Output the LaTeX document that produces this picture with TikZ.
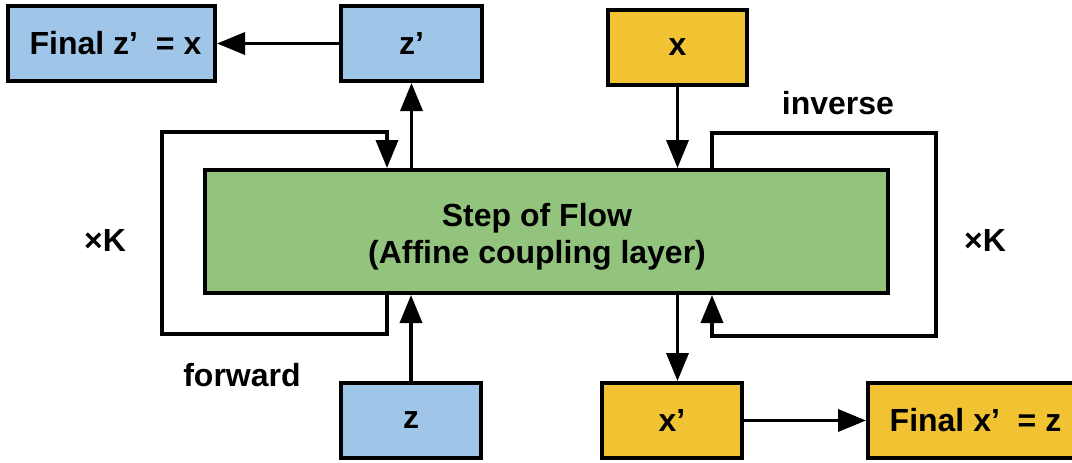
\documentclass[tikz,border=0pt]{standalone}
\usepackage{fontspec}
\setmainfont{Liberation Sans}
\usetikzlibrary{arrows.meta,positioning}
\definecolor{boxblue}{HTML}{9FC5E8}
\definecolor{boxyellow}{HTML}{F1C232}
\definecolor{boxgreen}{HTML}{93C47D}
\tikzset{
	box/.style={draw, line width=2pt, minimum height=37.5pt, font=\fontsize{16}{18.5}\bfseries\selectfont},
	arr/.style={line width=1.8pt, -{Triangle[length=14pt,width=11pt]}},
	lbl/.style={font=\fontsize{16}{18.5}\bfseries\selectfont}
}
\begin{document}
\begin{tikzpicture}[x=0.5pt,y=0.5pt]
	\useasboundingbox (0,0) rectangle (1072,462);
	\node[box, fill=boxblue, minimum width=103.5pt] (finz) at (111.5,418.5) {\hspace{4pt}Final z’~ = x};
	\node[box, fill=boxblue, minimum width=70.5pt] (zp) at (411.5,418.5) {z’};
	\node[box, fill=boxyellow, minimum width=69.5pt] (xin) at (677.5,415) {x};
	\node[box, fill=boxgreen, minimum width=341.5pt, minimum height=61.5pt] (flow) at (546.5,230.5) {};
	\node[lbl, align=center] (flowtxt) at (537,225) {Step of Flow\\(Affine coupling layer)};
	\node[box, fill=boxblue, minimum width=70pt] (z) at (411,41.5) {z};
	\node[box, fill=boxyellow, minimum width=70pt] (xp) at (672,41.5) {x’};
	\node[box, fill=boxyellow, minimum width=103.5pt] (finx) at (971.5,41.5) {\hspace{4pt}Final x’~ = z};
	\node[lbl] (inv) at (838,359) {inverse};
	\node[lbl] (fwd) at (242,87) {forward};
	\node[lbl] (kl) at (105,222) {×K};
	\node[lbl] (kr) at (985,222) {×K};
	% main connectors
	\draw[arr] (zp.west) -- (finz.east);
	\draw[arr] (flow.north -| zp) -- (zp.south);
	\draw[arr] (xin.south) -- (xin.south |- flow.north);
	\draw[arr] (z.north) -- (z.north |- flow.south);
	\draw[arr] (xin.south |- flow.south) -- (xin.south |- xp.north);
	\draw[arr] (xp.east) -- (finx.west);
	% repeat loops
	\coordinate (fwdx) at (387,0);
	\coordinate (invx) at (712,0);
	\draw[arr] (flow.south -| fwdx) -- (fwdx |- 0,128) -| (162,330) -| (flow.north -| fwdx);
	\draw[arr] (flow.north -| invx) -- (invx |- 0,329) -| (936,126) -| (flow.south -| invx);
\end{tikzpicture}
\end{document}
